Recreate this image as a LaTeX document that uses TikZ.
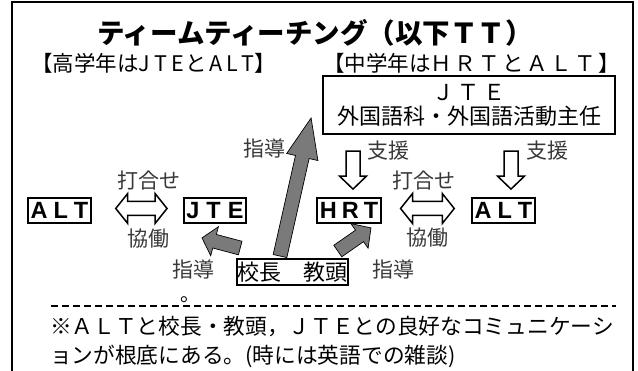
\documentclass[tikz,border=0pt]{standalone}
\usepackage{fontspec}
\usetikzlibrary{calc}
\newfontfamily\jp{Noto Sans CJK JP}
\newfontfamily\arialb{Liberation Sans Bold}
\definecolor{fatgray}{RGB}{122,122,122}
\newcommand\dblarr[2]{%
  \draw[hollow] (#1) -- ++(12,-15) -- ++(0,8) -- ($(#2)+(-12,-7)$) -- ++(0,-8) -- (#2)
    -- ++(-12,15) -- ++(0,-8) -- ($(#1)+(12,7)$) -- ++(0,8) -- cycle;}
\newcommand\downarr[2]{%
  \draw[hollow] ($(#1)+(-7,0)$) -- ($(#1)+(7,0)$) -- ($(#2)+(7,-13)$) -- ($(#2)+(13.5,-13)$)
    -- (#2) -- ($(#2)+(-13.5,-13)$) -- ($(#2)+(-7,-13)$) -- cycle;}
\newcommand\fatarr[5]{%
  \coordinate (fa-h) at ($(#2)!#5!(#1)$);
  \filldraw[fat] ($(#1)!#3!90:(#2)$) -- ($(fa-h)!#3!90:(#2)$) -- ($(fa-h)!#4!90:(#2)$) -- (#2)
    -- ($(fa-h)!#4!-90:(#2)$) -- ($(fa-h)!#3!-90:(#2)$) -- ($(#1)!#3!-90:(#2)$) -- cycle;}
\newcommand\lsp[1]{#1\hspace{2.5pt}}
\begin{document}
\begin{tikzpicture}[x=1pt,y=-1pt,
  jpt/.style={font=\jp\fontsize{21.5}{24}\selectfont, inner sep=0},
  lbl/.style={font=\jp\fontsize{21}{24}\selectfont, text=black!78, inner sep=0},
  tbox/.style={draw, line width=1.8pt, font=\arialb\fontsize{23.5}{24}\selectfont,
     inner xsep=2.5pt, inner ysep=0pt, minimum height=25pt},
  fat/.style={fill=fatgray, draw=black, line width=0.7pt, line join=miter},
  hollow/.style={fill=white, draw=black, line width=1.5pt, line join=miter},
  frame/.style={line width=2pt}]
\useasboundingbox (0,0) rectangle (638,371);
\coordinate (f1) at (12,380);
\coordinate (f2) at (12,2);
\coordinate (f3) at (633,2);
\coordinate (f4) at (633,380);
\draw[frame] (f1) -- (f2) -- (f3) -- (f4);

\node[font=\jp\bfseries\fontsize{27.5}{30}\selectfont, inner sep=0] (title) at (315,33) {ティームティーチング（以下ＴＴ）};
\node[jpt, anchor=west] (lab1) at (31,63) {【高学年はJ\hspace{4pt}T\hspace{4pt}E\hspace{2pt}と\hspace{2pt}A\hspace{4pt}L\hspace{4pt}T】};
\node[jpt, anchor=west] (lab2) at (323,63) {【中学年は\lsp{Ｈ}\lsp{Ｒ}\lsp{Ｔ}\lsp{と}\lsp{Ａ}\lsp{Ｌ}\lsp{Ｔ}】};

\node[draw, line width=1.8pt, minimum width=292pt, minimum height=58pt, inner sep=0,
  align=center, font=\jp\fontsize{22}{24}\selectfont] (jtebox) at (469,105)
  {Ｊ\hspace{4pt}Ｔ\hspace{4pt}Ｅ\\外国語科・外国語活動主任};

\node[tbox] (altL) at (59.5,210.5) {A\hspace{6pt}L\hspace{6pt}T};
\node[tbox] (jteR) at (215,210.5) {J\hspace{7pt}T\hspace{7pt}E};
\node[tbox] (hrt) at (349,210.5) {H\hspace{5pt}R\hspace{5pt}T};
\node[tbox] (altR) at (503.5,210.5) {A\hspace{6pt}L\hspace{6pt}T};

\node[draw, line width=1.6pt, jpt, font=\jp\fontsize{22}{24}\selectfont, inner xsep=0.5pt, inner ysep=3pt] (kocho) at (292.5,272) {校長　教頭};

\node[lbl] (sd1) at (264,149) {指導};
\node[lbl] (sien1) at (388,151) {支援};
\node[lbl] (sien2) at (547,151) {支援};
\node[lbl] (uc1) at (149,181) {打合せ};
\node[lbl] (uc2) at (424,181) {打合せ};
\node[lbl] (kd1) at (148,239) {協働};
\node[lbl] (kd2) at (427,238) {協働};
\node[lbl] (sd2) at (193,270) {指導};
\node[lbl] (sd3) at (393,270) {指導};

% double arrows
\coordinate (d1a) at ($(altL.east)+(24,-2)$);
\coordinate (d1b) at ($(jteR.west)+(-16,-2)$);
\dblarr{d1a}{d1b}
\coordinate (d2a) at ($(hrt.east)+(19,-2)$);
\coordinate (d2b) at ($(altR.west)+(-17,-2)$);
\dblarr{d2a}{d2b}

% support arrows
\coordinate (s1tip) at ($(hrt.north)+(4,-8)$);
\coordinate (s1top) at ($(s1tip)+(0,-38)$);
\downarr{s1top}{s1tip}
\coordinate (s2tip) at ($(altR.north)+(7.5,-8)$);
\coordinate (s2top) at ($(s2tip)+(0,-38)$);
\downarr{s2top}{s2tip}

% fat gray arrows
\coordinate (b1t) at ($(kocho.north)+(-12.5,-2)$);
\coordinate (b1h) at ($(jtebox.west)+(-11,13)$);
\fatarr{b1t}{b1h}{7pt}{16pt}{40pt}
\coordinate (b2t) at ($(kocho.north west)+(4,-10)$);
\coordinate (b2h) at ($(jteR.south)+(-13,14)$);
\fatarr{b2t}{b2h}{7pt}{15pt}{13pt}
\coordinate (b3t) at ($(kocho.north east)+(-11,-7)$);
\coordinate (b3h) at ($(hrt.south)+(22,4)$);
\fatarr{b3t}{b3h}{7pt}{15pt}{14pt}

\node[jpt, font=\jp\fontsize{20}{24}\selectfont, anchor=base west] (maru) at (180,302) {。};
\coordinate (dl) at (51,306);
\coordinate (dr) at (616,306);
\draw[line width=1.8pt, dash pattern=on 7pt off 4pt] (dl) -- (dr);

\node[jpt, font=\jp\fontsize{21.7}{24}\selectfont, anchor=west] (note1) at (50,327) {※ＡＬＴと校長・教頭，ＪＴＥとの良好なコミュニケーシ};
\node[jpt, font=\jp\fontsize{21.7}{24}\selectfont, anchor=west] (note2) at (50,356) {ョンが根底にある。(時には英語での雑談)};
\end{tikzpicture}
\end{document}
